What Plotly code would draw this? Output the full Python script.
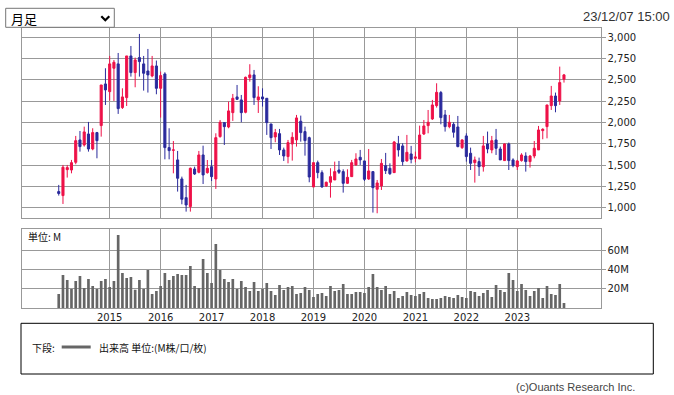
import plotly.graph_objects as go
import pandas as pd

W, H = 674, 395

# ---------------- data ----------------
months = pd.date_range("2014-01-01", periods=120, freq="MS").strftime("%Y-%m").tolist()

open_ = [1192, 1145, 1449, 1445, 1535, 1797, 1738, 1867, 1691, 1883, 1965, 2453,
         2363, 2637, 2688, 2176, 2293, 2781, 2586, 2762, 2688, 2605, 2547, 2664,
         2402, 2570, 1707, 1676, 1563, 1340, 1121, 1016, 1457, 1418, 1621, 1414,
         1484, 1340, 1836, 2000, 1949, 2117, 2301, 2266, 2121, 2527, 2559, 2266,
         2301, 2285, 1984, 1832, 1871, 1680, 1602, 1750, 1797, 2016, 1895, 1824,
         1246, 1531, 1414, 1258, 1301, 1328, 1445, 1426, 1289, 1367, 1504, 1594,
         1551, 1340, 1426, 1219, 1258, 1496, 1465, 1414, 1750, 1727, 1551, 1633,
         1582, 1574, 1867, 1965, 2043, 2199, 2352, 2090, 1953, 1980, 1949, 1707,
         1844, 1641, 1531, 1543, 1484, 1750, 1680, 1797, 1691, 1555, 1750, 1563,
         1484, 1555, 1609, 1543, 1609, 1680, 1906, 1953, 2199, 2312, 2254, 2508]
high = [1270, 1504, 1504, 1563, 1844, 1902, 1953, 2008, 1934, 1891, 2441, 2637,
        2781, 2734, 2816, 2402, 2781, 2898, 2762, 3039, 2781, 2863, 2781, 2727,
        2598, 2590, 1934, 1785, 1668, 1367, 1270, 1473, 1484, 1668, 1730, 1562,
        1562, 1875, 2031, 2004, 2246, 2336, 2441, 2324, 2539, 2684, 2617, 2426,
        2402, 2285, 1984, 1926, 1926, 1707, 1797, 1887, 2090, 2082, 1953, 1836,
        1531, 1555, 1441, 1309, 1465, 1543, 1551, 1453, 1453, 1563, 1641, 1680,
        1551, 1691, 1426, 1328, 1574, 1645, 1523, 1785, 1844, 1758, 1856, 1727,
        1660, 1965, 2031, 2148, 2266, 2461, 2371, 2148, 2090, 2004, 2078, 1805,
        1875, 1707, 1602, 1590, 1844, 1895, 1844, 1926, 1719, 1758, 1766, 1582,
        1563, 1641, 1652, 1621, 1785, 1961, 1934, 2207, 2430, 2352, 2656, 2570]
low = [1145, 1047, 1356, 1406, 1512, 1660, 1719, 1660, 1676, 1582, 1836, 2207,
       2258, 2254, 2102, 2160, 2195, 2539, 2414, 2539, 2375, 2352, 2531, 2332,
       2059, 1570, 1570, 1406, 1192, 1043, 957, 957, 1387, 1406, 1281, 1402,
       1316, 1223, 1824, 1738, 1934, 2020, 2266, 2004, 2109, 2480, 2207, 2113,
       2188, 1856, 1691, 1770, 1621, 1551, 1523, 1555, 1719, 1777, 1613, 1301,
       1246, 1348, 1238, 1246, 1121, 1328, 1398, 1180, 1281, 1367, 1496, 1504,
       1316, 1328, 946, 938, 1211, 1398, 1387, 1410, 1602, 1496, 1543, 1523,
       1535, 1574, 1855, 1875, 2031, 2176, 1980, 1895, 1934, 1824, 1711, 1691,
       1543, 1445, 1297, 1375, 1426, 1641, 1641, 1621, 1563, 1551, 1445, 1477,
       1445, 1543, 1426, 1473, 1582, 1680, 1805, 1816, 2148, 2121, 2207, 2469]
close = [1170, 1477, 1473, 1531, 1789, 1719, 1891, 1691, 1883, 1789, 2441, 2383,
         2688, 2707, 2164, 2301, 2781, 2586, 2734, 2715, 2578, 2559, 2664, 2402,
         2551, 1707, 1672, 1680, 1348, 1102, 1035, 1465, 1398, 1621, 1387, 1465,
         1367, 1824, 2004, 1953, 2137, 2285, 2273, 2117, 2531, 2559, 2293, 2301,
         2277, 2000, 1824, 1883, 1680, 1609, 1766, 1828, 2055, 1883, 1789, 1363,
         1531, 1414, 1246, 1301, 1367, 1426, 1418, 1289, 1359, 1531, 1574, 1563,
         1336, 1434, 1238, 1293, 1523, 1437, 1402, 1773, 1680, 1543, 1652, 1570,
         1598, 1855, 1961, 2004, 2207, 2355, 2059, 1953, 2004, 1887, 1719, 1797,
         1602, 1523, 1563, 1484, 1727, 1691, 1789, 1699, 1563, 1750, 1555, 1496,
         1551, 1621, 1543, 1609, 1699, 1914, 1922, 2207, 2312, 2199, 2469, 2559]
volume = [14.7, 34.3, 29.2, 19.9, 28.1, 33.3, 20.9, 30.2, 23.0, 19.9, 28.1, 30.2,
          22.0, 28.1, 75.5, 36.4, 31.2, 32.2, 19.2, 29.2, 19.9, 39.4, 14.7, 17.8,
          23.0, 36.4, 29.2, 33.3, 35.3, 34.3, 34.3, 43.6, 23.0, 20.9, 50.8, 36.4,
          26.1, 66.2, 39.4, 30.2, 27.1, 30.2, 19.9, 28.1, 22.0, 17.8, 27.1, 17.8,
          19.9, 26.1, 17.8, 13.7, 24.0, 18.9, 22.0, 23.0, 14.7, 15.8, 22.0, 18.9,
          11.7, 14.7, 15.8, 12.7, 23.0, 17.8, 18.9, 25.0, 14.7, 14.7, 16.8, 16.8,
          15.8, 22.0, 35.3, 22.0, 18.9, 23.0, 14.7, 17.8, 10.6, 12.7, 16.8, 13.7,
          12.7, 14.7, 16.8, 10.6, 9.6, 9.6, 10.6, 12.7, 11.7, 10.6, 13.7, 11.7,
          10.6, 17.8, 16.8, 12.7, 15.8, 18.9, 11.7, 24.0, 18.9, 16.8, 36.4, 29.2,
          17.8, 25.0, 18.9, 12.7, 17.8, 20.9, 10.6, 23.0, 14.7, 13.7, 25.0, 5.5]

price_ticks = [1000, 1250, 1500, 1750, 2000, 2250, 2500, 2750, 3000]
price_tick_labels = ["1,000", "1,250", "1,500", "1,750", "2,000", "2,250", "2,500", "2,750", "3,000"]
vol_ticks = [20, 40, 60]
vol_tick_labels = ["20M", "40M", "60M"]
year_ticks = ["2015-01", "2016-01", "2017-01", "2018-01", "2019-01",
              "2020-01", "2021-01", "2022-01", "2023-01"]
year_labels = ["2015", "2016", "2017", "2018", "2019", "2020", "2021", "2022", "2023"]

# ---------------- styling ----------------
RED = "#EE1148"
BLUE = "#2A2A9C"
GRID = "#999999"
VOLC = "#666666"
NUMFONT = "DejaVu Sans"
JPFONT = "Noto Sans CJK JP"


def px(x):
    return x / W


def py(y):
    return 1 - y / H


fig = go.Figure()
fig.add_trace(go.Candlestick(
    x=months, open=open_, high=high, low=low, close=close,
    increasing=dict(line=dict(color=RED, width=1), fillcolor=RED),
    decreasing=dict(line=dict(color=BLUE, width=1), fillcolor=BLUE),
    whiskerwidth=0, xaxis="x", yaxis="y", showlegend=False, hoverinfo="skip",
))
fig.add_trace(go.Bar(
    x=months, y=volume, marker=dict(color=VOLC, line=dict(width=0)),
    width=0.63, xaxis="x2", yaxis="y2", showlegend=False, hoverinfo="skip",
))

xdom = [px(21.5), px(600.5)]
xrange_ = [-8.77, 127.6]
common_x = dict(
    domain=xdom, type="category", categoryorder="array", categoryarray=months,
    range=xrange_, tickvals=year_ticks, showgrid=True, gridcolor=GRID, gridwidth=1,
    showline=True, linecolor=GRID, linewidth=1, mirror=True, ticks="",
    zeroline=False, fixedrange=True,
)
common_y = dict(
    side="right", showgrid=True, gridcolor=GRID, gridwidth=1, showline=True,
    linecolor=GRID, linewidth=1, mirror=True, ticks="outside", ticklen=4,
    tickcolor=GRID, zeroline=False, fixedrange=True,
    tickfont=dict(family=NUMFONT, size=10, color="#222222"),
)

fig.update_layout(
    width=W, height=H, margin=dict(l=0, r=0, t=0, b=0),
    paper_bgcolor="white", plot_bgcolor="white", showlegend=False,
    xaxis=dict(**common_x, anchor="y", showticklabels=False,
               rangeslider=dict(visible=False)),
    xaxis2=dict(**common_x, anchor="y2", matches="x", showticklabels=True,
                ticktext=year_labels,
                tickfont=dict(family=NUMFONT, size=10, color="#222222")),
    yaxis=dict(**common_y, domain=[py(217.7), py(28.3)], anchor="x",
               range=[886, 3105], tickvals=price_ticks, ticktext=price_tick_labels),
    yaxis2=dict(**common_y, domain=[py(308.3), py(229.3)], anchor="x2",
                range=[0, 81.3], tickvals=vol_ticks, ticktext=vol_tick_labels),
    boxgap=0.3,
)

shapes = []
annotations = []

# dropdown
shapes.append(dict(type="rect", xref="paper", yref="paper",
                   x0=px(5.7), x1=px(114.3), y0=py(27.3), y1=py(8.3),
                   line=dict(color="#767676", width=1), fillcolor="white"))
shapes.append(dict(type="path", xref="paper", yref="paper",
                   path=f"M {px(101.3)} {py(16.3)} L {px(105.3)} {py(20.3)} L {px(109.3)} {py(16.3)}",
                   line=dict(color="#000000", width=2.2)))
annotations.append(dict(text="月足", x=px(9), y=py(18), xref="paper", yref="paper",
                        xanchor="left", yanchor="middle", showarrow=False,
                        font=dict(family=JPFONT, size=13, color="#000000")))
# date / time
annotations.append(dict(text="23/12/07 15:00", x=px(671.5), y=py(16.5), xref="paper", yref="paper",
                        xanchor="right", yanchor="middle", showarrow=False,
                        font=dict(family="Liberation Sans", size=13, color="#333333")))
# unit label inside volume panel
annotations.append(dict(text="単位: M", x=px(26), y=py(236.7), xref="paper", yref="paper",
                        xanchor="left", yanchor="middle", showarrow=False,
                        font=dict(family=JPFONT, size=10, color="#111111")))
# legend box
shapes.append(dict(type="rect", xref="paper", yref="paper",
                   x0=px(21), x1=px(653.3), y0=py(374), y1=py(323.3),
                   line=dict(color="#000000", width=1), fillcolor="rgba(0,0,0,0)"))
annotations.append(dict(text="下段:", x=px(29.5), y=py(347), xref="paper", yref="paper",
                        xanchor="left", yanchor="middle", showarrow=False,
                        font=dict(family=JPFONT, size=10, color="#111111")))
shapes.append(dict(type="line", xref="paper", yref="paper",
                   x0=px(61.7), x1=px(90.7), y0=py(347), y1=py(347),
                   line=dict(color=VOLC, width=3)))
annotations.append(dict(text="出来高 単位:(M株/口/枚)", x=px(96.5), y=py(347), xref="paper", yref="paper",
                        xanchor="left", yanchor="middle", showarrow=False,
                        font=dict(family=JPFONT, size=10, color="#111111")))
# copyright
annotations.append(dict(text="(c)Ouants Research Inc.", x=px(637), y=py(387.3), xref="paper", yref="paper",
                        xanchor="right", yanchor="middle", showarrow=False,
                        font=dict(family="Liberation Sans", size=11, color="#444444")))

fig.update_layout(shapes=shapes, annotations=annotations)
fig.write_html(
    "out.html",
    config={"displayModeBar": False, "staticPlot": True},
    post_script="document.body.style.margin='0';document.body.style.padding='0';",
)
